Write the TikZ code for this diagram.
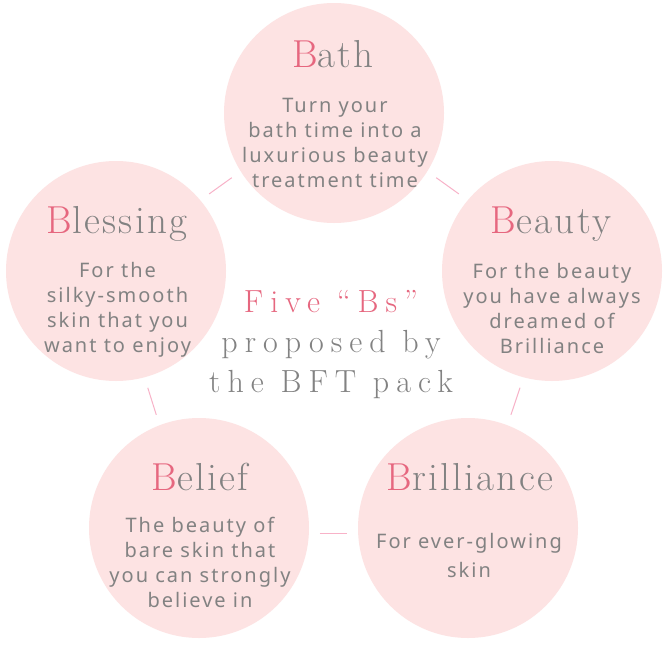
\documentclass[tikz,border=0pt]{standalone}
\usepackage{fontspec}
\setmainfont{lmroman10-regular.otf}
\newfontfamily\titlefont[LetterSpace=6]{lmroman17-regular.otf}
\newfontfamily\centerfont[LetterSpace=22]{lmroman17-regular.otf}
\newfontfamily\bodyfont[LetterSpace=10]{Noto Sans}
\definecolor{circfill}{HTML}{FDE3E3}
\definecolor{pinkB}{HTML}{E6677F}
\definecolor{txtgray}{HTML}{828282}
\definecolor{linkpink}{HTML}{F8B2C8}
\tikzset{
  circ/.style={circle, fill=circfill, draw=none, minimum size=220pt, inner sep=0pt, outer sep=0pt},
  ttl/.style={anchor=base, inner sep=0pt, text=txtgray, font=\titlefont\fontsize{39}{42}\selectfont},
  bodytxt/.style={anchor=base, inner sep=0pt, align=center, text=txtgray, font=\bodyfont\fontsize{20}{25}\selectfont},
  ctr/.style={anchor=base, inner sep=0pt, text=txtgray, font=\centerfont\fontsize{32}{40}\selectfont},
  link/.style={draw=linkpink, line width=1pt, shorten <=11pt, shorten >=11pt}
}
\newcommand{\PB}{\textcolor{pinkB}{B}}
\begin{document}
\begin{tikzpicture}[x=1pt,y=-1pt]
\useasboundingbox (0,0) rectangle (666,645);
\fill[white] (0,0) rectangle (666,645);
% circles
\node[circ] (bath) at (334,113) {};
\node[circ] (blessing) at (116,271) {};
\node[circ] (beauty) at (552,271) {};
\node[circ] (belief) at (199,528) {};
\node[circ] (brilliance) at (468,528) {};
% connectors
\draw[link] (bath.212) -- (blessing.40);
\draw[link] (bath.328) -- (beauty.140);
\draw[link] (blessing.285) -- (belief.111);
\draw[link] (beauty.255) -- (brilliance.69);
\draw[link] (belief.357) -- (brilliance.183);
% titles
\node[ttl] (bathT) at (333,67) {\PB ath};
\node[ttl] (blessingT) at (117,233) {\PB lessing};
\node[ttl] (beautyT) at (551,233) {\PB eauty};
\node[ttl] (beliefT) at (200,490) {\PB elief};
\node[ttl] (brillianceT) at (470,490) {\PB rilliance};
% bodies (base anchor = last line)
\node[bodytxt] (bathD) at (335,187) {Turn your\\bath time into a\\luxurious beauty\\treatment time};
\node[bodytxt] (blessingD) at (117.5,352) {For the\\silky-smooth\\skin that you\\want to enjoy};
\node[bodytxt] (beautyD) at (552,353) {For the beauty\\you have always\\dreamed of\\Brilliance};
\node[bodytxt] (beliefD) at (200,607) {The beauty of\\bare skin that\\you can strongly\\believe in};
\node[bodytxt] (brillianceD) at (469,577) {For ever-glowing\\[4pt]skin};
% center text
\node[ctr, text=pinkB] (c1) at (331,312) {Five “Bs”};
\node[ctr] (c2) at (331,352) {proposed by};
\node[ctr] (c3) at (331,392) {the BFT pack};
\end{tikzpicture}
\end{document}
